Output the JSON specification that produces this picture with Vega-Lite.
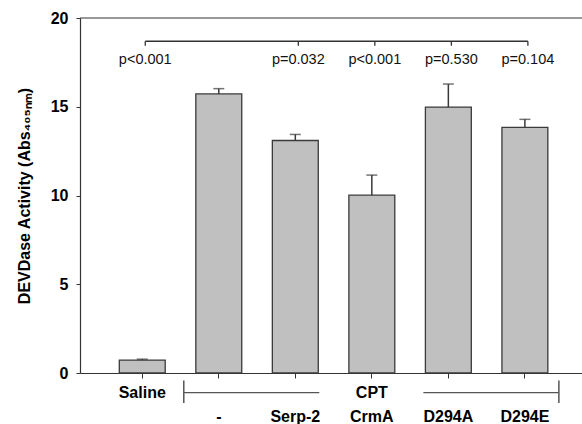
{
  "$schema": "https://vega.github.io/schema/vega-lite/v6.json",
  "width": 502,
  "height": 355,
  "autosize": {"type": "none"},
  "padding": {"left": 80, "top": 18, "right": 0, "bottom": 51},
  "background": "white",
  "config": {
    "view": {"stroke": null},
    "font": "Liberation Sans"
  },
  "datasets": {
    "bars": [
      {"group": "Saline", "mean": 0.73, "upper": 0.78},
      {"group": "-", "mean": 15.72, "upper": 16.02},
      {"group": "Serp-2", "mean": 13.1, "upper": 13.44},
      {"group": "CrmA", "mean": 10.02, "upper": 11.15},
      {"group": "D294A", "mean": 14.98, "upper": 16.28},
      {"group": "D294E", "mean": 13.84, "upper": 14.29}
    ],
    "pvals": [
      {"group": "Saline", "label": "p<0.001"},
      {"group": "Serp-2", "label": "p=0.032"},
      {"group": "CrmA", "label": "p<0.001"},
      {"group": "D294A", "label": "p=0.530"},
      {"group": "D294E", "label": "p=0.104"}
    ],
    "bracket": [{"from": "Saline", "to": "D294E", "y": 18.69, "ylow": 18.44, "top": 20}],
    "cpt": [{"a": "-", "b": "Serp-2", "c": "D294A", "d": "D294E", "y": -1.11, "ylo": -0.42, "yhi": -1.69}]
  },
  "layer": [
    {
      "data": {"name": "bars"},
      "mark": {"type": "bar", "fill": "#c0c0c0", "stroke": "#3a3a3a", "strokeWidth": 1.3},
      "encoding": {
        "x": {
          "field": "group", "type": "nominal", "sort": null,
          "scale": {"paddingInner": 0.4, "paddingOuter": 0.48, "align": 0.535},
          "axis": {
            "title": null,
            "labelAngle": 0,
            "labelFont": "Liberation Sans",
            "labelFontSize": 16,
            "labelFontWeight": "bold",
            "labelColor": "black",
            "labelLineHeight": 24,
            "labelPadding": 6,
            "labelExpr": "datum.value == 'Saline' ? 'Saline' : (datum.value == 'CrmA' ? ['CPT', 'CrmA'] : [' ', datum.value])",
            "tickSize": 5,
            "tickColor": "#333",
            "domainColor": "#333",
            "domainWidth": 1.2
          }
        },
        "y": {
          "field": "mean", "type": "quantitative",
          "scale": {"domain": [0, 20], "nice": false, "zero": true},
          "axis": {
            "title": "DEVDase Activity (Abs₄₀₅ₙₘ)",
            "titleFont": "Liberation Sans",
            "titleFontSize": 16,
            "titleFontWeight": "bold",
            "titleColor": "black",
            "titlePadding": 18,
            "values": [0, 5, 10, 15, 20],
            "grid": false,
            "labelFont": "Liberation Sans",
            "labelFontSize": 16,
            "labelFontWeight": "bold",
            "labelColor": "black",
            "labelPadding": 8,
            "tickSize": 4,
            "tickColor": "#333",
            "domainColor": "#333",
            "domainWidth": 1.2
          }
        }
      }
    },
    {
      "data": {"name": "bars"},
      "mark": {"type": "rule", "stroke": "#3a3a3a", "strokeWidth": 1.5},
      "encoding": {
        "x": {"field": "group", "type": "nominal", "sort": null},
        "y": {"field": "mean", "type": "quantitative"},
        "y2": {"field": "upper"}
      }
    },
    {
      "data": {"name": "bars"},
      "mark": {"type": "tick", "color": "#3a3a3a", "thickness": 1.5, "size": 11, "orient": "horizontal"},
      "encoding": {
        "x": {"field": "group", "type": "nominal", "sort": null},
        "y": {"field": "upper", "type": "quantitative"}
      }
    },
    {
      "data": {"name": "bracket"},
      "mark": {"type": "rule", "stroke": "#333", "strokeWidth": 1.2},
      "encoding": {
        "y": {"field": "top", "type": "quantitative"}
      }
    },
    {
      "data": {"name": "bracket"},
      "mark": {"type": "rule", "stroke": "#333", "strokeWidth": 1.3, "xOffset": 3, "x2Offset": 3},
      "encoding": {
        "x": {"field": "from", "type": "nominal", "sort": null},
        "x2": {"field": "to"},
        "y": {"field": "y", "type": "quantitative"}
      }
    },
    {
      "data": {"name": "pvals"},
      "mark": {"type": "rule", "stroke": "#333", "strokeWidth": 1.3, "xOffset": 3},
      "encoding": {
        "x": {"field": "group", "type": "nominal", "sort": null},
        "y": {"datum": 18.69, "type": "quantitative"},
        "y2": {"datum": 18.44}
      }
    },
    {
      "data": {"name": "pvals"},
      "mark": {"type": "text", "font": "Liberation Sans", "fontSize": 14.5, "color": "#111", "baseline": "middle", "align": "center", "xOffset": 3},
      "encoding": {
        "x": {"field": "group", "type": "nominal", "sort": null},
        "y": {"datum": 17.62, "type": "quantitative"},
        "text": {"field": "label"}
      }
    },
    {
      "data": {"name": "cpt"},
      "mark": {"type": "rule", "stroke": "#555", "strokeWidth": 1.3, "xOffset": -35, "x2Offset": 24},
      "encoding": {
        "x": {"field": "a", "type": "nominal", "sort": null},
        "x2": {"field": "b"},
        "y": {"field": "y", "type": "quantitative"}
      }
    },
    {
      "data": {"name": "cpt"},
      "mark": {"type": "rule", "stroke": "#555", "strokeWidth": 1.3, "xOffset": -25, "x2Offset": 34},
      "encoding": {
        "x": {"field": "c", "type": "nominal", "sort": null},
        "x2": {"field": "d"},
        "y": {"field": "y", "type": "quantitative"}
      }
    },
    {
      "data": {"name": "cpt"},
      "mark": {"type": "rule", "stroke": "#555", "strokeWidth": 1.5, "xOffset": -35},
      "encoding": {
        "x": {"field": "a", "type": "nominal", "sort": null},
        "y": {"field": "ylo", "type": "quantitative"},
        "y2": {"field": "yhi"}
      }
    },
    {
      "data": {"name": "cpt"},
      "mark": {"type": "rule", "stroke": "#555", "strokeWidth": 1.5, "xOffset": 34},
      "encoding": {
        "x": {"field": "d", "type": "nominal", "sort": null},
        "y": {"field": "ylo", "type": "quantitative"},
        "y2": {"field": "yhi"}
      }
    }
  ]
}
